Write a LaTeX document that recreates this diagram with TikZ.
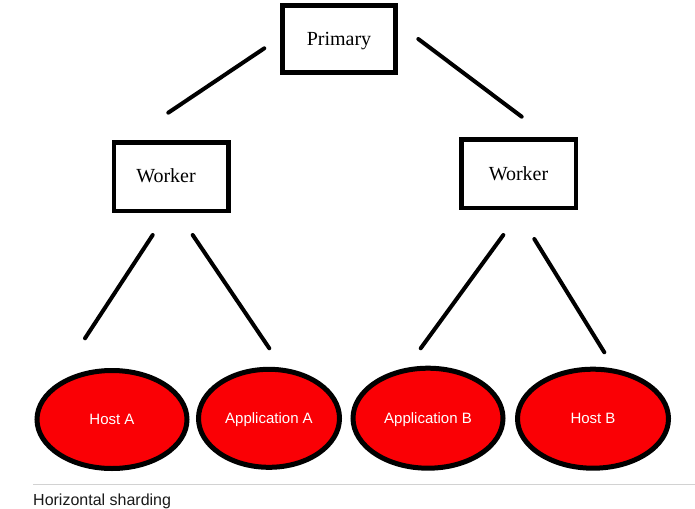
\documentclass[tikz,border=0pt]{standalone}
\usepackage{fontspec}
\setmainfont{Liberation Serif}
\setsansfont{Liberation Sans}
\usepackage{xcolor}
\usetikzlibrary{shapes.geometric}
\definecolor{shardred}{RGB}{250,0,5}
\definecolor{rulegray}{RGB}{210,210,210}

\begin{document}
\begin{tikzpicture}[x=1pt, y=-1pt,
	box/.style={draw, line width=4.5, rectangle, inner sep=0, text depth=0pt,
		font=\fontsize{20}{24}\selectfont},
	shard/.style={draw, line width=5, ellipse, fill=shardred, inner sep=0,
		text=white, text depth=0pt, font=\sffamily\fontsize{15}{18}\selectfont},
	link/.style={line width=4, line cap=round}]
	\useasboundingbox (0,0) rectangle (695,508);

	\node[box, minimum width=113, minimum height=67] (primary) at (339,39) {Primary};
	\node[box, minimum width=114.5, minimum height=68.8] (wleft) at (171,176.7) {\hspace*{-10pt}\raisebox{2pt}{Worker}};
	\node[box, minimum width=114.5, minimum height=68.5] (wright) at (518.5,173.5) {Worker};

	\node[shard, minimum width=150, minimum height=98] (hosta) at (112,419.5) {Host A};
	\node[shard, minimum width=141, minimum height=98] (appa) at (269,418.3) {Application A};
	\node[shard, minimum width=150, minimum height=100] (appb) at (428,418.2) {Application B};
	\node[shard, minimum width=151, minimum height=99] (hostb) at (593,418.7) {Host B};

	% loose ends of the links
	\coordinate (p1) at (264.3,48.3);   \coordinate (wl0) at (168.3,112.7);
	\coordinate (p2) at (418.3,39);     \coordinate (wr0) at (521.7,116.7);
	\coordinate (wl1) at (152.7,235);   \coordinate (ha) at (85,338.3);
	\coordinate (wl2) at (192.7,235);   \coordinate (aa) at (269.3,348.3);
	\coordinate (wr1) at (503.3,235);   \coordinate (ab) at (420.7,348.3);
	\coordinate (wr2) at (534.3,239);   \coordinate (hb) at (604.3,352.3);

	\draw[link] (p1) -- (wl0);
	\draw[link] (p2) -- (wr0);
	\draw[link] (wl1) -- (ha);
	\draw[link] (wl2) -- (aa);
	\draw[link] (wr1) -- (ab);
	\draw[link] (wr2) -- (hb);

	\coordinate (rulel) at (33,484);
	\coordinate (ruler) at (695,484);
	\draw[rulegray, line width=1] (rulel) -- (ruler);
	\node[anchor=base west, inner sep=0, text=black!90,
		font=\sffamily\fontsize{16}{19}\selectfont] (caption) at (33,505.5) {Horizontal sharding};
\end{tikzpicture}
\end{document}
